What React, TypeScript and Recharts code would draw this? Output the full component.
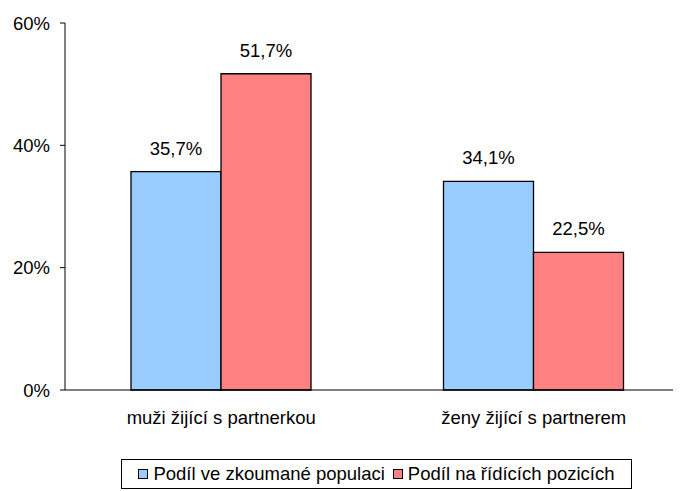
import { BarChart, Bar, XAxis, YAxis, Legend, LabelList } from "recharts"

const kategorie = ["muži žijící s partnerkou", "ženy žijící s partnerem"]
const podilPopulace = [35.7, 34.1]
const podilRidici = [51.7, 22.5]
const osaY = [0, 20, 40, 60]
const hranice = [0, 1, 2]

const serie = [
  { key: "populace", name: "Podíl ve zkoumané populaci", color: "#99CCFF" },
  { key: "ridici", name: "Podíl na řídících pozicích", color: "#FF8080" },
]

const dados = kategorie.map((k, i) => ({
  kategorie: k,
  populace: podilPopulace[i],
  ridici: podilRidici[i],
}))

const font = "'Liberation Sans', Arial, sans-serif"
const velikost = 18.5
const procenta = (v: any) => `${Number(v).toFixed(1).replace(".", ",")}%`

function Legenda() {
  return (
    <div
      style={{
        boxSizing: "border-box",
        width: 511,
        height: 30,
        border: "1px solid #000",
        display: "flex",
        alignItems: "center",
        justifyContent: "center",
        gap: 8,
        fontFamily: font,
        fontSize: velikost,
        color: "#000",
        background: "#fff",
      }}
    >
      {serie.map((s) => (
        <span key={s.key} style={{ display: "flex", alignItems: "center", gap: 5 }}>
          <span
            style={{
              width: 10,
              height: 10,
              boxSizing: "border-box",
              border: "1px solid #000",
              background: s.color,
              display: "inline-block",
            }}
          />
          {s.name}
        </span>
      ))}
    </div>
  )
}

export default function App() {
  return (
    <div style={{ width: 673, height: 483, overflow: "hidden" }}>
      <BarChart
        width={684}
        height={483}
        data={dados}
        barSize={90}
        barGap={0}
        margin={{ top: 15, right: 2, left: 0, bottom: 2 }}
        style={{ fontFamily: font }}
      >
        <XAxis
          xAxisId="a"
          type="number"
          domain={[0, 2]}
          ticks={hranice}
          tick={false}
          tickSize={5}
          height={5}
          stroke="#000"
          allowDataOverflow
        />
        <XAxis
          xAxisId="b"
          dataKey="kategorie"
          axisLine={false}
          tickLine={false}
          tickSize={0}
          tickMargin={16}
          height={64}
          tick={{ fontSize: velikost, fill: "#000" }}
          interval={0}
        />
        <YAxis
          domain={[0, 60]}
          ticks={osaY}
          width={57}
          tickSize={5}
          tickMargin={10}
          stroke="#000"
          tick={{ fontSize: velikost, fill: "#000" }}
          tickFormatter={(v) => `${v}%`}
        />
        <Legend
          verticalAlign="bottom"
          content={<Legenda />}
          wrapperStyle={{ left: 113, width: 511, height: 30 }}
        />
        {serie.map((s) => (
          <Bar
            key={s.key}
            xAxisId="b"
            dataKey={s.key}
            name={s.name}
            fill={s.color}
            stroke="#000"
            strokeWidth={1.3}
            isAnimationActive={false}
          >
            <LabelList
              dataKey={s.key}
              position="top"
              offset={17}
              formatter={procenta}
              style={{ fontSize: velikost, fill: "#000", fontFamily: font }}
            />
          </Bar>
        ))}
      </BarChart>
    </div>
  )
}
